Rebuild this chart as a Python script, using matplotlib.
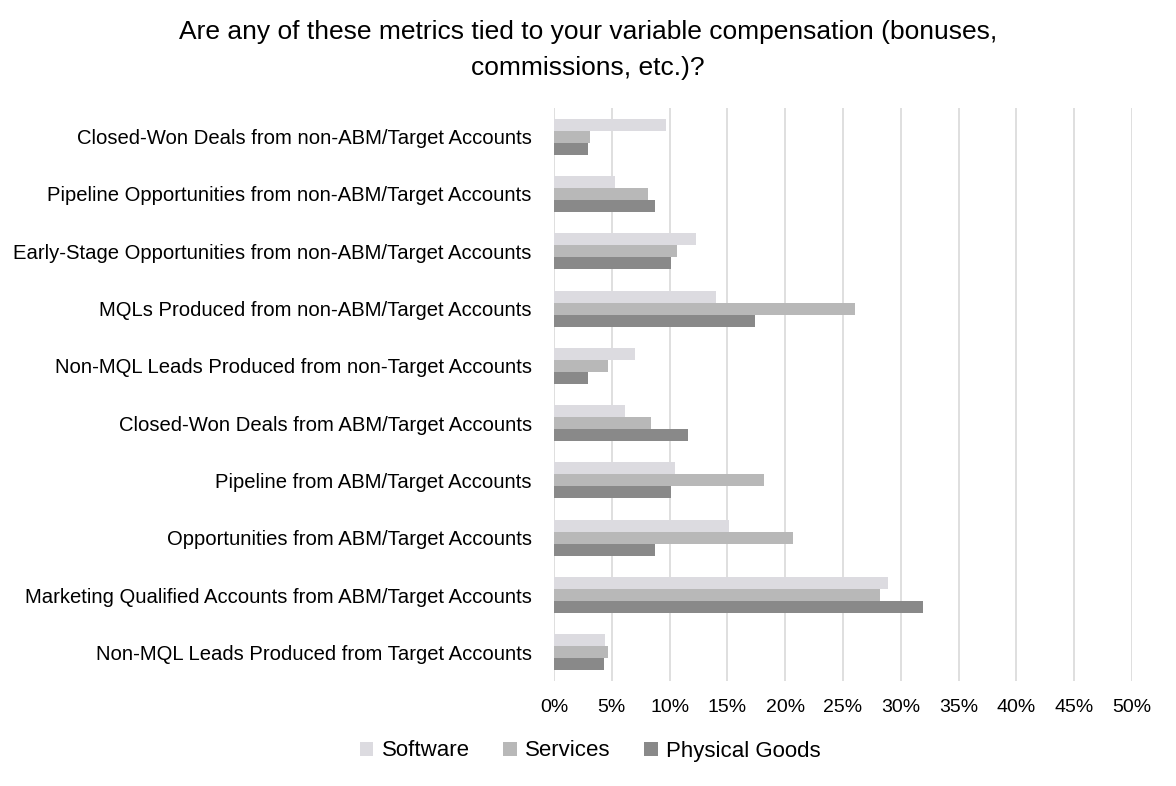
import matplotlib.pyplot as plt
import numpy as np

plt.rcParams['font.family'] = ['Liberation Sans', 'DejaVu Sans']

categories = [
    "Closed-Won Deals from non-ABM/Target Accounts",
    "Pipeline Opportunities from non-ABM/Target Accounts",
    "Early-Stage Opportunities from non-ABM/Target Accounts",
    "MQLs Produced from non-ABM/Target Accounts",
    "Non-MQL Leads Produced from non-Target Accounts",
    "Closed-Won Deals from ABM/Target Accounts",
    "Pipeline from ABM/Target Accounts",
    "Opportunities from ABM/Target Accounts",
    "Marketing Qualified Accounts from ABM/Target Accounts",
    "Non-MQL Leads Produced from Target Accounts",
]
software = [9.7, 5.3, 12.3, 14.0, 7.0, 6.1, 10.5, 15.1, 28.9, 4.4]
services = [3.1, 8.1, 10.6, 26.0, 4.7, 8.4, 18.2, 20.7, 28.2, 4.7]
physical = [2.9, 8.7, 10.1, 17.4, 2.9, 11.6, 10.1, 8.7, 31.9, 4.3]

series = [("Software", software, "#DCDBE0"),
          ("Services", services, "#B8B8B8"),
          ("Physical Goods", physical, "#898989")]

fig = plt.figure(figsize=(11.76, 7.86), dpi=100)
ax = fig.add_axes([554/1176, 1-681/786, (1132-554)/1176, (681-108)/786])

y = np.arange(len(categories))
h = 0.21
for i, (name, vals, col) in enumerate(series):
    ax.barh(y + (i-1)*h, np.array(vals)/100, height=h, color=col, label=name, zorder=2)

ax.set_ylim(len(categories)-0.5, -0.5)
ax.set_xlim(0, 0.5)
ticks = np.arange(0, 0.51, 0.05)
ax.set_xticks(ticks)
ax.set_xticklabels([f"{int(round(t*100))}%" for t in ticks], fontsize=14)
ax.set_yticks(y)
ax.set_yticklabels(categories, fontsize=14.6)
ax.tick_params(axis='both', length=0)
ax.tick_params(axis='x', pad=13)
ax.tick_params(axis='y', pad=16)
ax.grid(axis='x', color='#D9D9D9', linewidth=1.2, zorder=0)
for s in ax.spines.values():
    s.set_visible(False)

fig.suptitle("Are any of these metrics tied to your variable compensation (bonuses,\ncommissions, etc.)?",
             x=0.5, y=0.974, fontsize=19, linespacing=1.6, va='top')

fig.legend(loc='center', bbox_to_anchor=(0.502, 1-751/786), ncol=3, frameon=False,
           fontsize=16, handlelength=0.6, handleheight=0.6, columnspacing=1.5, handletextpad=0.4)

fig.savefig("out.png", dpi=100)
